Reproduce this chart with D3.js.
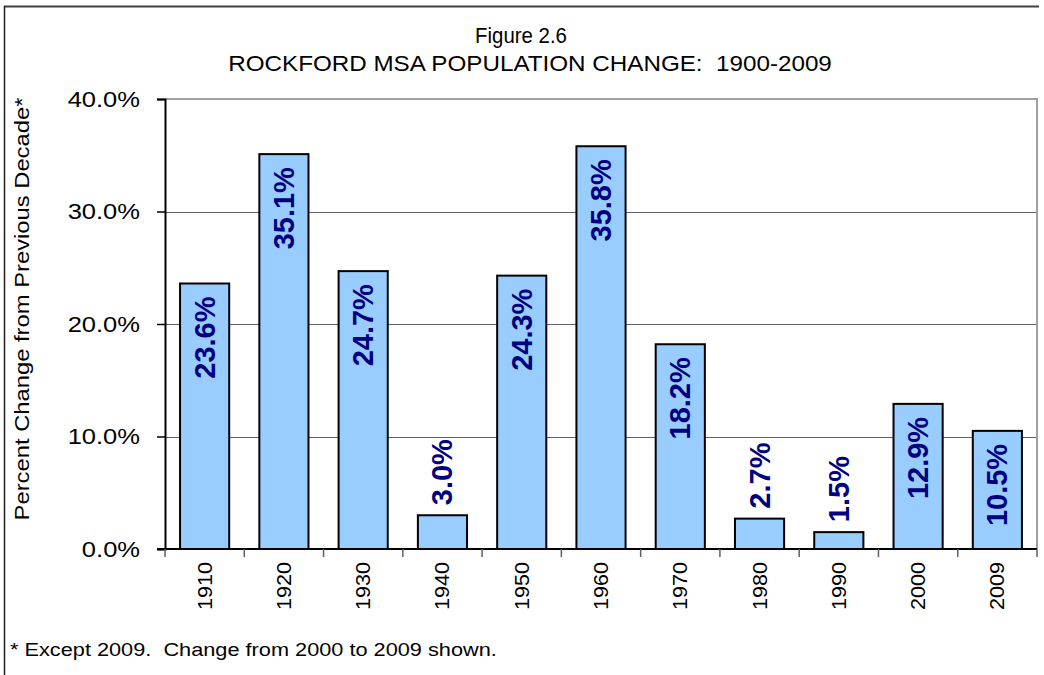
<!DOCTYPE html>
<html>
<head>
<meta charset="utf-8">
<script src="https://cdn.jsdelivr.net/npm/d3@7"></script>
<style>
  body { margin: 0; background: #fff; }
  text { font-family: Arial, "Liberation Sans", sans-serif; }
</style>
</head>
<body>
<script>
// Data
var decades = ["1910", "1920", "1930", "1940", "1950", "1960", "1970", "1980", "1990", "2000", "2009"];
var changes = [23.6, 35.1, 24.7, 3.0, 24.3, 35.8, 18.2, 2.7, 1.5, 12.9, 10.5];
var yTicks = [0, 10, 20, 30, 40];

var svgWidth = 1044;
var svgHeight = 675;

// plot area in pixels
var plot = { left: 165, top: 99, right: 1037, bottom: 549 };

var svg = d3.select("body")
  .append("svg")
  .attr("width", svgWidth)
  .attr("height", svgHeight);

// stretch a text horizontally (in its own frame) so it spans "len" px
function stretchText(sel, x, y, rot, len) {
  var w = sel.node().getComputedTextLength();
  var k = len / w;
  sel.attr("transform", `translate(${x},${y}) rotate(${rot}) scale(${k},1)`);
}

// outer frame (top and left edges show)
svg.append("line")
  .attr("x1", 4).attr("x2", 1039).attr("y1", 6.5).attr("y2", 6.5)
  .attr("stroke", "#404040").attr("stroke-width", 2);
svg.append("line")
  .attr("x1", 4.5).attr("x2", 4.5).attr("y1", 6).attr("y2", 675)
  .attr("stroke", "#202020").attr("stroke-width", 1.5);

var xScale = d3.scaleBand()
  .domain(decades)
  .range([plot.left, plot.right])
  .paddingInner(0.38)
  .paddingOuter(0.19);

var yScale = d3.scaleLinear()
  .domain([0, 40])
  .range([plot.bottom, plot.top]);

// gridlines
svg.append("g")
  .selectAll("line")
  .data(yTicks.filter(d => d > 0 && d < 40))
  .enter()
  .append("line")
  .attr("x1", plot.left).attr("x2", plot.right)
  .attr("y1", d => Math.round(yScale(d)) + 0.5)
  .attr("y2", d => Math.round(yScale(d)) + 0.5)
  .attr("stroke", "#606060").attr("stroke-width", 1);

// plot border top + right in grey
svg.append("path")
  .attr("d", `M${plot.left},${plot.top}H${plot.right}V${plot.bottom}`)
  .attr("fill", "none")
  .attr("stroke", "#a0a0a0")
  .attr("stroke-width", 2);

// bars
svg.append("g")
  .selectAll("rect")
  .data(decades)
  .enter()
  .append("rect")
  .attr("x", d => xScale(d))
  .attr("width", xScale.bandwidth())
  .attr("y", (d, i) => yScale(changes[i]))
  .attr("height", (d, i) => plot.bottom - yScale(changes[i]))
  .attr("fill", "#99ccff")
  .attr("stroke", "#000")
  .attr("stroke-width", 2);

// y axis
var yAxis = d3.axisLeft(yScale)
  .tickValues(yTicks)
  .tickSize(8)
  .tickPadding(14)
  .tickFormat(d => d3.format(".1f")(d) + "%");

var yAxisGroup = svg.append("g")
  .attr("transform", `translate(${plot.left},0)`)
  .call(yAxis);
yAxisGroup.select(".domain").attr("stroke", "#000").attr("stroke-width", 2);
yAxisGroup.selectAll(".tick line").attr("stroke", "#000").attr("stroke-width", 1.5);
yAxisGroup.selectAll("text")
  .attr("font-size", 22)
  .attr("fill", "#000")
  .attr("x", 0)
  .each(function () {
    var t = d3.select(this);
    stretchText(t, -25, 0, 0, t.node().getComputedTextLength() * 1.16);
  });

// x axis line
svg.append("line")
  .attr("x1", plot.left - 8).attr("x2", plot.right)
  .attr("y1", plot.bottom).attr("y2", plot.bottom)
  .attr("stroke", "#000").attr("stroke-width", 2);

// x ticks at category boundaries
var step = xScale.step();
svg.append("g")
  .selectAll("line")
  .data(d3.range(decades.length + 1))
  .enter()
  .append("line")
  .attr("x1", i => plot.left + i * step)
  .attr("x2", i => plot.left + i * step)
  .attr("y1", plot.bottom).attr("y2", plot.bottom + 8)
  .attr("stroke", "#606060").attr("stroke-width", 1.5);

// x labels rotated
svg.append("g")
  .selectAll("text")
  .data(decades)
  .enter()
  .append("text")
  .attr("text-anchor", "end")
  .attr("font-size", 20)
  .attr("fill", "#000")
  .text(d => d)
  .each(function (d) {
    stretchText(d3.select(this), xScale(d) + xScale.bandwidth() / 2 + 7, plot.bottom + 13, -90, 48);
  });

// value labels
var labelSize = 29;
var labelLen = 82;
svg.append("g")
  .selectAll("text")
  .data(decades)
  .enter()
  .append("text")
  .attr("transform", (d, i) => {
    var top = yScale(changes[i]);
    var inside = plot.bottom - top > labelLen + 20;
    var y = inside ? top + 13 : top - 10;
    return `translate(${xScale(d) + xScale.bandwidth() / 2 + 10},${y}) rotate(-90)`;
  })
  .attr("text-anchor", (d, i) => (plot.bottom - yScale(changes[i]) > labelLen + 20) ? "end" : "start")
  .attr("font-size", labelSize)
  .attr("font-weight", "bold")
  .attr("fill", "#000080")
  .text((d, i) => d3.format(".1f")(changes[i]) + "%");

// titles
var title1 = svg.append("text")
  .attr("text-anchor", "middle")
  .attr("font-size", 22)
  .text("Figure 2.6");
stretchText(title1, 521, 43, 0, 92);

var title2 = svg.append("text")
  .attr("text-anchor", "middle")
  .attr("font-size", 22)
  .attr("xml:space", "preserve")
  .text("ROCKFORD MSA POPULATION CHANGE:  1900-2009");
stretchText(title2, 530, 71, 0, 604);

// y axis title
var yTitle = svg.append("text")
  .attr("text-anchor", "middle")
  .attr("font-size", 21)
  .text("Percent Change from Previous Decade*");
stretchText(yTitle, 29, 309, -90, 423);

// footnote
var foot = svg.append("text")
  .attr("font-size", 19)
  .attr("xml:space", "preserve")
  .text("* Except 2009.  Change from 2000 to 2009 shown.");
stretchText(foot, 10, 656, 0, 487);
</script>
</body>
</html>
